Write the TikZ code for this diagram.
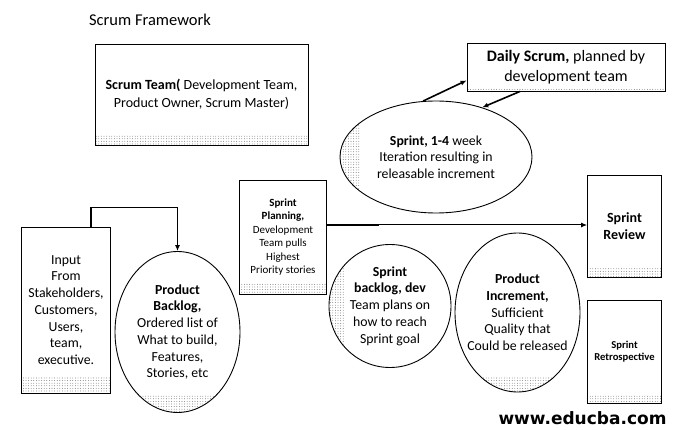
\documentclass[tikz,border=0pt]{standalone}
\usepackage{fontspec}
\setmainfont{Carlito}
\newfontfamily\urlfont{DejaVu Sans}
\usepackage{tikz}
\usetikzlibrary{shapes.geometric, patterns.meta, arrows.meta}

\begin{document}
\begin{tikzpicture}[x=1pt, y=-1pt, thick,
  box/.style={draw, rectangle, line width=0.9pt, align=center, inner sep=0pt,
    font=\fontsize{13.8}{16.7}\selectfont},
  oval/.style={draw, ellipse, line width=0.9pt, align=center, inner sep=-12pt,
    font=\fontsize{13.8}{16.7}\selectfont},
  dotfill/.style={pattern={Dots[distance=2.6pt, radius=0.4pt]}, pattern color=black!70},
  lowdots/.style={path picture={
    \fill[dotfill] (path picture bounding box.south west)
      rectangle ([yshift=#1]path picture bounding box.south east);}},
  leftdots/.style={path picture={
    \fill[dotfill] (path picture bounding box.south west)
      rectangle ([xshift=#1]path picture bounding box.north west);}},
  link/.style={line width=1.6pt, -{Latex[length=6pt, width=5pt]}}
]

  \useasboundingbox (0, 0) rectangle (683, 430);

  \node (title) at (150, 20) {\fontsize{16.5}{20}\selectfont Scrum Framework};

  \node[box, lowdots=10pt, minimum width=213pt, minimum height=101pt,
    font=\fontsize{14}{18}\selectfont] (team) at (201.5, 94.5)
    {{\bfseries Scrum Team(} Development Team,\\ Product Owner, Scrum Master)};

  \node[box, lowdots=2.5pt, minimum width=198pt, minimum height=48pt,
    font=\fontsize{16}{20}\selectfont] (daily) at (566, 67)
    {{\bfseries Daily Scrum,} planned by\\ development team};

  \node[oval, leftdots=20pt, minimum width=192pt, minimum height=112pt] (sprint) at (436, 157)
    {{\bfseries Sprint, 1-4} week\\ Iteration resulting in\\ releasable increment};

  \node[box, lowdots=16pt, minimum width=89pt, minimum height=166pt] (input) at (66, 310)
    {Input\\ From\\ Stakeholders,\\ Customers,\\ Users,\\ team,\\ executive.};

  \node[oval, lowdots=18pt, minimum width=125pt, minimum height=161pt] (backlog) at (177.5, 332)
    {{\bfseries Product}\\ {\bfseries Backlog,}\\ Ordered list of\\ What to build,\\ Features,\\ Stories, etc};

  \node[box, lowdots=10pt, minimum width=87pt, minimum height=114pt,
    font=\fontsize{11}{13.4}\selectfont] (planning) at (283, 237)
    {{\bfseries Sprint}\\ {\bfseries Planning,}\\ Development\\ Team pulls\\ Highest\\ Priority stories};

  \node[oval, leftdots=16pt, minimum width=122pt, minimum height=123pt] (sbacklog) at (390, 306)
    {{\bfseries Sprint}\\ {\bfseries backlog, dev}\\ Team plans on\\ how to reach\\ Sprint goal};

  \node[oval, lowdots=15pt, minimum width=125pt, minimum height=159pt] (increment) at (517.5, 312.5)
    {{\bfseries Product}\\ {\bfseries Increment,}\\ Sufficient\\ Quality that\\ Could be released};

  \node[box, lowdots=9pt, minimum width=74pt, minimum height=102pt,
    font=\fontsize{14}{17.3}\selectfont\bfseries] (review) at (624.5, 226)
    {Sprint\\ Review};

  \node[box, lowdots=8pt, minimum width=74pt, minimum height=103pt,
    font=\fontsize{10.6}{12.7}\selectfont\bfseries] (retro) at (624.5, 351.5)
    {Sprint\\ Retrospective};

  \node (url) at (582.5, 418) {\urlfont\fontsize{17}{20}\selectfont\bfseries www.educba.com};

  % connectors
  \draw[link] ([xshift=25pt]input.north) -- ++(0, -19) -| (backlog.north);
  \draw[line width=1.8pt] ([yshift=1pt]planning.east |- review.west) -- ++(52, 0);
  \draw[link, line width=1pt] ([yshift=1pt]planning.east |- review.west) -- ([yshift=1pt]review.west);
  \draw[link] (sprint.103) -- ([yshift=11pt]daily.south west);
  \draw[link] ([xshift=-46pt]daily.south) -- (sprint.47);

\end{tikzpicture}
\end{document}
